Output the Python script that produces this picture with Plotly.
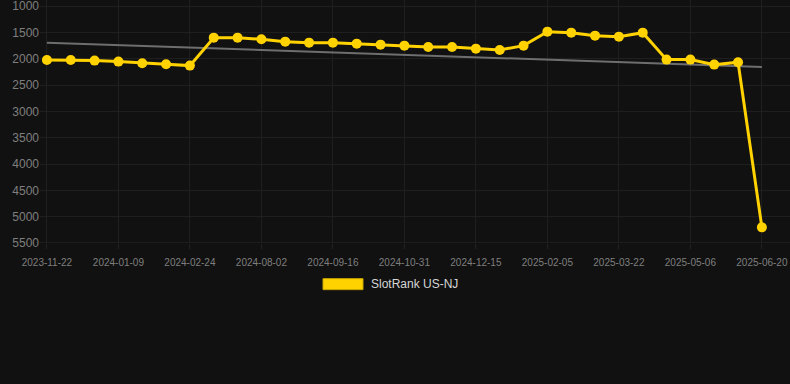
import plotly.graph_objects as go

dates = [
    "2023-11-22", "2023-12-08", "2023-12-24", "2024-01-09", "2024-01-24", "2024-02-08",
    "2024-02-24", "2024-04-17", "2024-06-10", "2024-08-02", "2024-08-17", "2024-09-01",
    "2024-09-16", "2024-10-01", "2024-10-16", "2024-10-31", "2024-11-15", "2024-11-30",
    "2024-12-15", "2025-01-02", "2025-01-19", "2025-02-05", "2025-02-20", "2025-03-07",
    "2025-03-22", "2025-04-06", "2025-04-21", "2025-05-06", "2025-05-21", "2025-06-05",
    "2025-06-20",
]
rank = [
    2024, 2024, 2037, 2056, 2087, 2105, 2132,
    1601, 1601, 1631, 1677, 1696, 1696, 1715, 1734, 1753, 1777, 1777, 1810, 1834, 1753,
    1487, 1506, 1563, 1582, 1506,
    2018, 2018, 2113, 2067, 5203,
]
trend_x = ["2023-11-22", "2025-06-20"]
trend_y = [1696, 2158]
tick_labels = dates[::3]
y_ticks = [1000, 1500, 2000, 2500, 3000, 3500, 4000, 4500, 5000, 5500]
series_name = "SlotRank US-NJ"

GOLD = "#FFD200"
BG = "#111111"
GRID = "#1f1f1f"
TICK = "#7f7f7f"

PLOT_TOP = 0.0
PLOT_BOTTOM = 243.3
PLOT_H = PLOT_BOTTOM - PLOT_TOP
PLOT_L = 40
PLOT_W = 750

fig = go.Figure()
fig.add_trace(go.Scatter(
    x=trend_x, y=trend_y, mode="lines",
    line=dict(color="#6e6e6e", width=2), showlegend=False, hoverinfo="skip",
))
fig.add_trace(go.Scatter(
    x=dates, y=rank, mode="lines+markers", name=series_name,
    line=dict(color=GOLD, width=3),
    marker=dict(color=GOLD, size=10),
    showlegend=False,
))

# legend drawn as swatch + label
fig.add_shape(type="rect", xref="paper", yref="paper",
              x0=(323 - PLOT_L) / PLOT_W, x1=(363 - PLOT_L) / PLOT_W,
              y0=(PLOT_BOTTOM - 290) / PLOT_H, y1=(PLOT_BOTTOM - 279) / PLOT_H,
              fillcolor=GOLD, line=dict(color="#c9a600", width=1))
fig.add_annotation(xref="paper", yref="paper", x=(369 - PLOT_L) / PLOT_W,
                   y=(PLOT_BOTTOM - 284.5) / PLOT_H, text=series_name, showarrow=False,
                   xanchor="left", yanchor="middle",
                   font=dict(color="#d6d6d6", size=12, family="Liberation Sans, Arial, sans-serif"))

fig.update_layout(
    width=790, height=384,
    paper_bgcolor=BG, plot_bgcolor=BG,
    margin=dict(l=PLOT_L, r=0, t=PLOT_TOP, b=384 - PLOT_BOTTOM, pad=0),
    font=dict(family="Liberation Sans, Arial, sans-serif", color=TICK),
    xaxis=dict(
        type="category", categoryorder="array", categoryarray=dates,
        range=[-0.29, 31.18],
        tickmode="array", tickvals=tick_labels, ticktext=tick_labels,
        tickfont=dict(size=10, color=TICK),
        ticks="outside", ticklen=5, tickcolor="#222222", tickwidth=1,
        ticklabelstandoff=5,
        showgrid=True, gridcolor=GRID, gridwidth=1,
        zeroline=False, showline=False,
    ),
    yaxis=dict(
        range=[5500, 886],
        tickmode="array", tickvals=y_ticks,
        tickfont=dict(size=12, color=TICK),
        ticklabeloverflow="allow",
        showgrid=True, gridcolor=GRID, gridwidth=1,
        zeroline=False, showline=False, ticks="", ticklen=0,
    ),
    showlegend=False,
)
fig.add_shape(type="line", xref="paper", yref="y", x0=0, x1=1, y0=5500, y1=5500,
              line=dict(color="#2a2a2a", width=1))

fig.write_html(
    "out.html",
    config={"displayModeBar": False},
    post_script="document.body.style.margin='0';document.body.style.background='#111111';",
)
